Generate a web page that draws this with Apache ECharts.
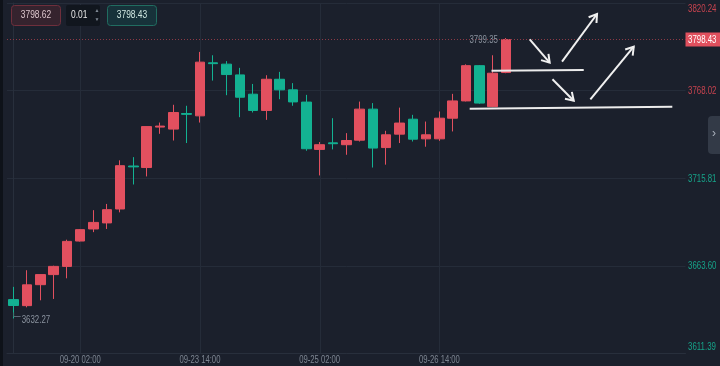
<!DOCTYPE html>
<html><head><meta charset="utf-8">
<script src="https://cdn.jsdelivr.net/npm/echarts@6/dist/echarts.min.js"></script>
<style>html,body{margin:0;padding:0;background:#1b202c;overflow:hidden}#c{width:720px;height:366px}</style>
</head><body><div id="c"></div>
<script>
const times = ['09-19 06:00','09-19 10:00','09-19 14:00','09-19 18:00','09-19 22:00','09-20 02:00','09-20 06:00','09-20 10:00','09-20 14:00','09-20 18:00','09-20 22:00','09-23 02:00','09-23 06:00','09-23 10:00','09-23 14:00','09-23 18:00','09-23 22:00','09-24 02:00','09-24 06:00','09-24 10:00','09-24 14:00','09-24 18:00','09-24 22:00','09-25 02:00','09-25 06:00','09-25 10:00','09-25 14:00','09-25 18:00','09-25 22:00','09-26 02:00','09-26 06:00','09-26 10:00','09-26 14:00','09-26 18:00','09-26 22:00','09-27 02:00','09-27 06:00','09-27 10:00'];
const opens  = [3643.5,3639.9,3652.4,3658.4,3663.3,3678.4,3685.6,3689.2,3697.5,3723.1,3722.2,3746.3,3745.1,3754.4,3753.0,3784.6,3783.8,3777.4,3765.9,3756.2,3774.8,3768.5,3761.2,3733.0,3736.9,3735.8,3738.5,3757.0,3734.1,3742.1,3751.0,3739.3,3739.3,3751.6,3761.9,3782.9,3758.5,3778.8];
const closes = [3640.0,3652.3,3658.4,3663.3,3678.2,3685.2,3689.5,3697.1,3723.3,3722.6,3746.6,3746.9,3755.0,3753.9,3785.0,3784.1,3777.6,3764.1,3756.2,3774.8,3768.5,3761.3,3733.4,3735.8,3736.4,3738.3,3757.0,3733.8,3741.7,3748.7,3739.1,3741.7,3751.6,3761.9,3782.9,3760.6,3778.4,3798.43];
const lows   = [3632.27,3638.9,3643.1,3643.9,3656.2,3678.1,3683.7,3685.6,3695.5,3712.1,3716.9,3742.3,3738.3,3736.8,3749.0,3774.0,3765.3,3752.2,3755.0,3750.6,3762.9,3759.0,3732.2,3717.5,3733.0,3729.8,3737.7,3722.2,3723.9,3736.8,3737.7,3734.6,3738.1,3743.7,3761.6,3760.2,3758.2,3778.4];
const highs  = [3651.1,3661.0,3658.6,3663.7,3679.2,3685.5,3696.8,3700.5,3726.5,3728.4,3746.8,3749.0,3759.6,3759.0,3791.1,3789.1,3785.6,3781.6,3772.0,3777.2,3779.2,3772.5,3765.5,3737.4,3751.6,3742.7,3761.5,3760.6,3744.1,3757.9,3753.6,3749.6,3755.6,3766.1,3783.7,3783.3,3789.1,3799.35];
const yTickLabels = ['3611.39','3663.60','3715.81','3768.02','3820.24'];
const yMin = 3611.39, yMax = 3820.24;
const lastPrice = 3798.43;
const bidText = '3798.62', lotText = '0.01', askText = '3798.43';
const gridTimes = ['09-20 02:00','09-23 14:00','09-25 02:00','09-26 14:00'];
const slotCount = 51;
// hand-drawn annotations in (candle index, price) units
const levelLines = [[35.92,3779.90,42.85,3780.32],[34.28,3757.26,49.51,3758.45]];
const arrows = [[38.79,3798.61,40.29,3784.67],[41.22,3785.26,43.85,3813.69],[40.50,3774.77,42.10,3762.02],[43.35,3762.86,46.61,3794.20]];

const maxHigh = Math.max(...highs), minLow = Math.min(...lows);
const maxIdx = highs.indexOf(maxHigh), minIdx = lows.indexOf(minLow);

// condensed look: measure text and squeeze horizontally to the reference widths
const ctx = document.createElement('canvas').getContext('2d');
const FONT = '"Liberation Sans", Arial, sans-serif';
function textW(size, s){ ctx.font = `${size}px ${FONT}`; return ctx.measureText(s).width; }
const LBL = 10;
const ySX = 28.5 / textW(LBL, '3820.24');
const xSX = 41 / textW(LBL, '09-20 02:00');
const BOX = 10;
const bSX = 30.5 / textW(BOX, '3798.62');

const RED = '#e2505f', GREEN = '#13b292';
const RED_L = '#c8434f', GREEN_L = '#16a389', GRAY_L = '#7d8591';
const ohlc = times.map((t,i)=>[opens[i],closes[i],lows[i],highs[i]]);

const chart = echarts.init(document.getElementById('c'), null, {renderer:'canvas'});
chart.setOption({
  backgroundColor:'#1b202c',
  animation:false,
  grid:{left:7, right:34.5, top:3, bottom:12.5, containLabel:false, outerBoundsMode:'none'},
  xAxis:[{
    type:'category', data:times, max:slotCount-1, boundaryGap:true,
    axisLine:{show:true,lineStyle:{color:'#282f3c'}}, axisTick:{show:false}, splitLine:{show:false},
    axisLabel:{show:false}
  },{
    type:'value', min:-0.5, max:slotCount-0.5, show:false
  }],
  yAxis:[{
    type:'value', position:'right', min:yMin, max:yMax, interval:(yMax-yMin)/4,
    axisLine:{show:true,lineStyle:{color:'#282f3c'}}, axisTick:{show:false},
    splitLine:{show:true,lineStyle:{color:'#252c39'}},
    axisLabel:{show:false}
  }],
  series:[
    { // vertical grid lines and labels at labelled times
      type:'custom', xAxisIndex:0, yAxisIndex:0, z:1, silent:true, clip:false,
      data:gridTimes.map(t=>[t, yMin]),
      renderItem:(params, api)=>{
        const cs = params.coordSys;
        const p = api.coord([api.value(0), yMin]);
        const x = Math.round(p[0]) + 0.5;
        return {type:'group', children:[
          {type:'line', shape:{x1:x,y1:cs.y,x2:x,y2:cs.y+cs.height}, style:{stroke:'#252c39', lineWidth:1}},
          {type:'text', x:p[0], y:cs.y+cs.height+2, scaleX:xSX,
           style:{text:gridTimes[params.dataIndex], fill:GRAY_L, font:`${LBL}px ${FONT}`, align:'center', verticalAlign:'top'}}
        ]};
      }
    },
    {
      type:'candlestick', xAxisIndex:0, yAxisIndex:0, z:2,
      data:ohlc, barWidth:10,
      itemStyle:{color:RED, color0:GREEN, borderColor:RED, borderColor0:GREEN, borderWidth:1},
      markLine:{
        silent:true, symbol:'none', animation:false,
        data:[{ yAxis:lastPrice, lineStyle:{color:'#8c3a46', type:[1,2], width:1}, label:{show:false} }]
      }
    },
    { // price axis labels + last price tag
      type:'custom', xAxisIndex:1, yAxisIndex:0, z:20, silent:true, clip:false,
      data:yTickLabels.map(l=>[slotCount-0.5, +l]).concat([[slotCount-0.5, lastPrice]]),
      renderItem:(params, api)=>{
        const i = params.dataIndex;
        const p = api.coord([api.value(0), api.value(1)]);
        if (i === yTickLabels.length) {
          return {type:'group', children:[
            {type:'rect', shape:{x:p[0], y:p[1]-7, width:720-p[0], height:14}, style:{fill:'#e0505e'}},
            {type:'text', x:p[0]+2.5, y:p[1]+0.5, scaleX:ySX,
             style:{text:lastPrice.toFixed(2), fill:'#ffffff', font:`${LBL}px ${FONT}`, align:'left', verticalAlign:'middle'}}
          ]};
        }
        const txt = yTickLabels[i];
        const last = yTickLabels.length-1;
        const va = i===0 ? 'bottom' : (i===last ? 'top' : 'middle');
        const dy = i===0 ? -1 : (i===last ? 1.5 : 0.5);
        return {type:'text', x:p[0]+2.5, y:p[1]+dy, scaleX:ySX,
          style:{text:txt, fill:(+txt>3740?RED_L:GREEN_L), font:`${LBL}px ${FONT}`, align:'left', verticalAlign:va}};
      }
    },
    { // high / low labels
      type:'custom', xAxisIndex:1, yAxisIndex:0, z:20, silent:true, clip:false,
      data:[[maxIdx, maxHigh], [minIdx, minLow]],
      renderItem:(params, api)=>{
        const p = api.coord([api.value(0), api.value(1)]);
        if (params.dataIndex === 0) {
          return {type:'text', x:p[0]-8, y:p[1]+2, scaleX:ySX,
            style:{text:maxHigh.toFixed(2), fill:'#8a929e', font:`${LBL}px ${FONT}`, align:'right', verticalAlign:'middle'}};
        }
        return {type:'group', children:[
          {type:'line', shape:{x1:p[0], y1:Math.round(p[1])-1.5, x2:p[0]+7, y2:Math.round(p[1])-1.5}, style:{stroke:'#5a6674', lineWidth:1}},
          {type:'line', shape:{x1:p[0], y1:p[1]-6, x2:p[0], y2:Math.round(p[1])-1.5}, style:{stroke:'#3f6f68', lineWidth:1}},
          {type:'text', x:p[0]+8, y:p[1]+1.5, scaleX:ySX,
           style:{text:minLow.toFixed(2), fill:'#8a929e', font:`${LBL}px ${FONT}`, align:'left', verticalAlign:'middle'}}
        ]};
      }
    },
    {
      type:'custom', xAxisIndex:1, yAxisIndex:0, z:10, silent:true,
      data:levelLines,
      renderItem:(params, api)=>{
        const p1 = api.coord([api.value(0), api.value(1)]);
        const p2 = api.coord([api.value(2), api.value(3)]);
        return {type:'line', shape:{x1:p1[0],y1:p1[1],x2:p2[0],y2:p2[1]}, style:{stroke:'#ececec', lineWidth:2}};
      }
    },
    {
      type:'custom', xAxisIndex:1, yAxisIndex:0, z:10, silent:true,
      data:arrows,
      renderItem:(params, api)=>{
        const p1 = api.coord([api.value(0), api.value(1)]);
        const p2 = api.coord([api.value(2), api.value(3)]);
        const ang = Math.atan2(p2[1]-p1[1], p2[0]-p1[0]);
        const L = 9, a = Math.PI/5.5;
        const h1 = [p2[0]-L*Math.cos(ang-a), p2[1]-L*Math.sin(ang-a)];
        const h2 = [p2[0]-L*Math.cos(ang+a), p2[1]-L*Math.sin(ang+a)];
        return {type:'group', children:[
          {type:'line', shape:{x1:p1[0],y1:p1[1],x2:p2[0],y2:p2[1]}, style:{stroke:'#f0f0f0', lineWidth:2}},
          {type:'polyline', shape:{points:[h1,p2,h2]}, style:{stroke:'#f0f0f0', lineWidth:2, fill:null}}
        ]};
      }
    }
  ],
  graphic:[
    {type:'rect', left:0, top:0, shape:{width:3,height:366}, style:{fill:'#0e1219'}, z:100},
    {type:'rect', x:11.5, y:5.5, shape:{width:49,height:20,r:3}, style:{fill:'#35232e', stroke:'#6f2f3c', lineWidth:1}, z:100},
    {type:'text', x:36, y:15.5, scaleX:bSX, style:{text:bidText, fill:'#dcc6cc', font:`${BOX}px ${FONT}`, align:'center', verticalAlign:'middle'}, z:101},
    {type:'rect', x:66, y:5, shape:{width:34,height:21,r:2}, style:{fill:'#11161e'}, z:100},
    {type:'text', x:71, y:15.5, scaleX:bSX, style:{text:lotText, fill:'#e8e8e8', font:`${BOX}px ${FONT}`, align:'left', verticalAlign:'middle'}, z:101},
    {type:'text', x:97, y:11, style:{text:'▲', fill:'#7f8894', font:"5px sans-serif", align:'center', verticalAlign:'middle'}, z:101},
    {type:'text', x:97, y:20, style:{text:'▼', fill:'#7f8894', font:"5px sans-serif", align:'center', verticalAlign:'middle'}, z:101},
    {type:'rect', x:107.5, y:5.5, shape:{width:49,height:20,r:3}, style:{fill:'#17323a', stroke:'#216d61', lineWidth:1}, z:100},
    {type:'text', x:132, y:15.5, scaleX:bSX, style:{text:askText, fill:'#cfe6e0', font:`${BOX}px ${FONT}`, align:'center', verticalAlign:'middle'}, z:101},
    {type:'rect', x:708, y:116, shape:{width:14,height:38,r:[4,0,0,4]}, style:{fill:'#333a47'}, z:100},
    {type:'text', x:714, y:134, style:{text:'›', fill:'#a9b0bb', font:"12px sans-serif", align:'center', verticalAlign:'middle'}, z:101}
  ]
});
</script></body></html>
